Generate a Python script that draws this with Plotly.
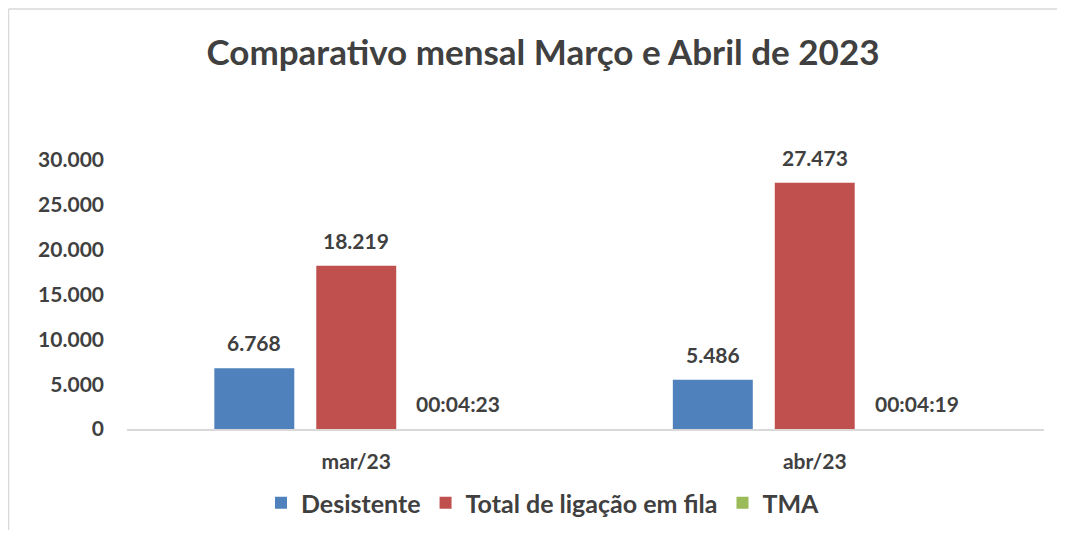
import plotly.graph_objects as go

categories = ["mar/23", "abr/23"]
desistente = [6768, 5486]
total_fila = [18219, 27473]
tma_seconds = [263, 259]
tma_labels = ["00:04:23", "00:04:19"]
y_ticks = [0, 5000, 10000, 15000, 20000, 25000, 30000]

series_names = ["Desistente", "Total de ligação em fila", "TMA"]
colors = ["#4F81BD", "#C0504D", "#9BBB59"]

tma_days = [s / 86400 for s in tma_seconds]

def fmt(v):
    return f"{v:,}".replace(",", ".")

FONT = "Lato"
TXT = "#404040"
W, H = 1049, 522
PL, PR, PT, PB = 119, 1036, 152, 421
L, R, T, B = PL, W - PR, PT, H - PB

fig = go.Figure()
values = [desistente, total_fila, tma_days]
labels = [[fmt(v) for v in desistente], [fmt(v) for v in total_fila], tma_labels]
for name, vals, col in zip(series_names, values, colors):
    fig.add_trace(go.Bar(x=categories, y=vals, name=name, marker=dict(color=col, line=dict(width=0))))

BARGAP = 0.333
cat_w = (PR - PL) / len(categories)
slot = cat_w * (1 - BARGAP) / 3
offsets = [-slot, 0, slot]
for si, (vals, labs) in enumerate(zip(values, labels)):
    for ci, (v, lab) in enumerate(zip(vals, labs)):
        fig.add_annotation(x=categories[ci], y=v, xref="x", yref="y", text=lab,
                           showarrow=False, xshift=offsets[si], yshift=11, yanchor="bottom",
                           font=dict(family=FONT, size=21, color=TXT, weight="bold"))

px = lambda p: (p - PL) / (PR - PL)
py = lambda p: (PB - p) / (PB - PT)
border = dict(color="#D9D9D9", width=1.5)
fig.add_shape(type="line", xref="paper", yref="paper", x0=px(0.5), x1=px(1100), y0=py(1), y1=py(1), line=border)
fig.add_shape(type="line", xref="paper", yref="paper", x0=px(0.5), x1=px(0.5), y0=py(1), y1=py(600), line=border)

fig.update_layout(
    width=W, height=H,
    margin=dict(l=L, r=R, t=T, b=B, pad=0, autoexpand=False),
    paper_bgcolor="white", plot_bgcolor="white",
    barmode="group", bargap=BARGAP, bargroupgap=0.2157,
    title=dict(text="<b>Comparativo mensal Março e Abril de 2023</b>", x=535 / W, xanchor="center",
               y=1 - 45 / H, yanchor="middle", yref="container", automargin=False,
               font=dict(family=FONT, size=35, color=TXT)),
    font=dict(family=FONT, color=TXT),
    legend=dict(orientation="h", x=px(535), xanchor="center", xref="paper",
                y=py(495), yanchor="middle", yref="paper",
                font=dict(family=FONT, size=25, color=TXT, weight="bold"),
                itemwidth=30, traceorder="normal"),
    xaxis=dict(showline=True, linecolor="#D9D9D9", linewidth=1.5, showgrid=False,
               ticks="", ticklabelstandoff=13, automargin=False,
               tickfont=dict(family=FONT, size=21, color=TXT, weight="bold")),
    yaxis=dict(range=[0, 30000], tickvals=y_ticks, ticktext=[fmt(v) for v in y_ticks],
               showgrid=False, zeroline=False, showline=False, ticks="",
               ticklabelstandoff=22, automargin=False,
               tickfont=dict(family=FONT, size=21, color=TXT, weight="bold")),
)

fig.write_html("out.html")
